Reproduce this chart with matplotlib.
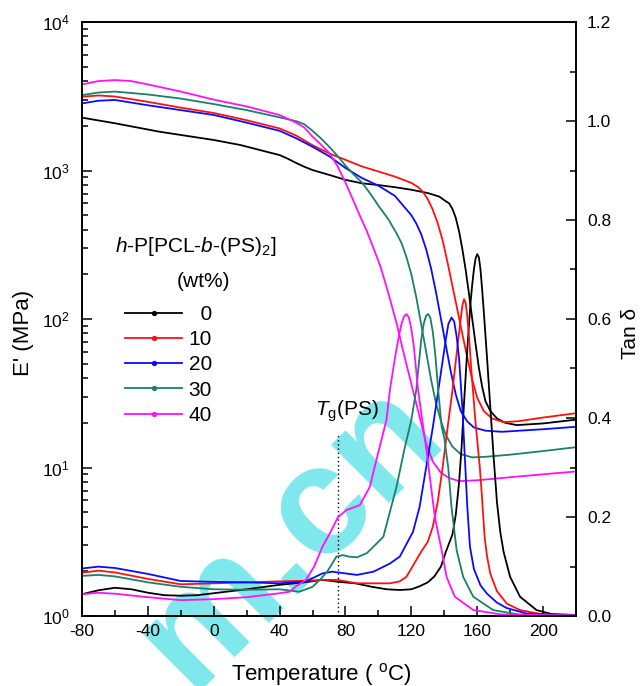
import matplotlib
matplotlib.use("Agg")
import matplotlib.pyplot as plt
from matplotlib.lines import Line2D
from matplotlib.ticker import LogLocator, MultipleLocator, FixedLocator, FixedFormatter, NullFormatter

plt.rcParams['font.family'] = ['Liberation Sans', 'DejaVu Sans']
plt.rcParams['mathtext.fontset'] = 'custom'
plt.rcParams['mathtext.rm'] = 'Liberation Sans'
plt.rcParams['mathtext.it'] = 'Liberation Sans:italic'
plt.rcParams['mathtext.bf'] = 'Liberation Sans:bold'
plt.rcParams['axes.unicode_minus'] = False

# ---------------- data ----------------
labels = ['  0', '10', '20', '30', '40']
colors = ['#000000', '#ff1010', '#0a0aff', '#1a8068', '#ff10ff']

# Storage modulus E' (MPa)
T_E0 = [-80, -60, -33, 0, 16, 40, 45, 50, 55, 60, 70, 80, 90, 100, 110, 120, 130, 137, 140, 143, 145, 147, 149, 151, 153, 155, 157, 159, 161, 163, 165, 168, 172, 177, 184, 200, 220]
E0 = [2270, 2080, 1825, 1605, 1486, 1270, 1200, 1125, 1060, 1007, 935, 865, 820, 798, 772, 742, 705, 667, 631, 600, 550, 479, 389, 295, 214, 148, 100, 68, 47, 35, 28, 24, 21.4, 20, 19.3, 19.8, 21]

T_E10 = [-80, -70, -60, -40, -20, 0, 20, 40, 50, 60, 70, 80, 90, 100, 110, 120, 124, 127, 130, 133, 136, 139, 142, 145, 148, 151, 154, 157, 160, 164, 169, 176, 185, 200, 220]
E10 = [3140, 3200, 3150, 2900, 2650, 2440, 2180, 1920, 1720, 1480, 1305, 1180, 1065, 985, 910, 825, 775, 720, 640, 545, 442, 339, 240, 166, 115, 79, 55, 39, 29.5, 24, 21.4, 20.2, 20.5, 21.7, 23.2]

T_E20 = [-80, -70, -60, -40, -20, 0, 20, 40, 50, 60, 70, 80, 90, 100, 110, 120, 123, 126, 129, 132, 135, 138, 141, 144, 147, 150, 154, 158, 165, 175, 200, 220]
E20 = [2830, 2950, 2985, 2750, 2550, 2365, 2100, 1850, 1650, 1445, 1250, 1040, 890, 790, 675, 500, 440, 372, 295, 219, 151, 100, 66, 44, 31, 24, 20.4, 18.6, 17.7, 17.4, 18.1, 18.8]

T_E30 = [-80, -70, -60, -40, -20, 0, 20, 40, 50, 55, 60, 65, 70, 75, 80, 85, 90, 95, 100, 106, 111, 114, 117, 120, 123, 126, 129, 132, 135, 138, 141, 145, 150, 157, 165, 180, 200, 220]
E30 = [3220, 3350, 3400, 3250, 3050, 2800, 2550, 2280, 2150, 2050, 1850, 1650, 1450, 1260, 1080, 940, 830, 700, 580, 470, 378, 325, 262, 200, 140, 92, 60, 39, 27, 20.5, 16.5, 13.8, 12.3, 11.7, 11.8, 12.2, 12.9, 13.7]

T_E40 = [-80, -70, -60, -50, -40, -20, 0, 20, 40, 50, 55, 60, 65, 70, 75, 80, 85, 89, 93, 97, 101, 106, 111, 116, 121, 125, 129, 133, 138, 143, 149, 160, 180, 200, 220]
E40 = [3800, 4000, 4065, 4000, 3800, 3400, 3000, 2700, 2365, 2100, 1950, 1690, 1500, 1320, 1080, 830, 620, 489, 390, 300, 230, 150, 94, 55, 33, 22, 14.5, 11, 9.2, 8.5, 8.1, 8.2, 8.6, 9.0, 9.4]

# Loss factor tan delta
T_t0 = [-80, -70, -60, -50, -40, -30, -20, -10, 0, 20, 40, 55, 66, 76, 86, 96, 105, 113, 120, 125, 130, 134, 138, 141, 145, 147, 149, 150.5, 152, 154, 156, 157, 158, 159, 160, 161, 162, 163, 164, 166, 168, 170, 172, 174, 176, 180, 186, 196, 205, 220]
t0 = [0.044, 0.052, 0.057, 0.054, 0.047, 0.042, 0.041, 0.042, 0.046, 0.054, 0.063, 0.068, 0.073, 0.069, 0.066, 0.059, 0.054, 0.0525, 0.054, 0.060, 0.068, 0.080, 0.100, 0.13, 0.165, 0.205, 0.27, 0.34, 0.43, 0.54, 0.635, 0.67, 0.70, 0.722, 0.731, 0.725, 0.70, 0.66, 0.615, 0.52, 0.42, 0.32, 0.23, 0.17, 0.13, 0.079, 0.039, 0.012, 0.004, 0.002]

T_t10 = [-80, -70, -60, -40, -20, 0, 20, 40, 55, 66, 75, 87, 100, 107, 113, 117, 123, 126, 130, 133, 136, 139, 142, 145, 148.5, 150, 151, 152, 153, 154, 155, 156.6, 159, 161.6, 162.7, 164.5, 166, 168, 172, 178, 186, 200, 220]
t10 = [0.0875, 0.0916, 0.088, 0.075, 0.064, 0.066, 0.068, 0.070, 0.071, 0.073, 0.073, 0.066, 0.066, 0.066, 0.070, 0.079, 0.113, 0.130, 0.150, 0.180, 0.230, 0.300, 0.380, 0.457, 0.558, 0.60, 0.627, 0.640, 0.632, 0.605, 0.565, 0.49, 0.39, 0.30, 0.25, 0.16, 0.12, 0.085, 0.050, 0.025, 0.012, 0.003, 0.001]

T_t20 = [-80, -70, -60, -40, -20, 0, 20, 40, 56, 66, 72, 80, 87, 97, 107, 113, 121, 125, 129, 133, 137, 141, 142.5, 144.4, 146, 147.5, 149, 151, 152.5, 154, 155.6, 158, 162, 166, 172, 178, 190, 220]
t20 = [0.096, 0.0997, 0.097, 0.085, 0.0707, 0.069, 0.068, 0.066, 0.070, 0.086, 0.0895, 0.086, 0.083, 0.0895, 0.106, 0.120, 0.170, 0.220, 0.300, 0.380, 0.470, 0.560, 0.590, 0.603, 0.595, 0.565, 0.520, 0.420, 0.320, 0.220, 0.140, 0.095, 0.062, 0.045, 0.027, 0.016, 0.005, 0.001]

T_t30 = [-80, -70, -60, -40, -20, 0, 20, 40, 52, 60, 65, 69, 74.5, 78.5, 82, 87, 93, 97, 103, 111, 116, 120, 123, 126, 127.5, 129, 130.2, 131.5, 133, 134.5, 136.3, 138.4, 140, 142.4, 144.4, 147.5, 151.5, 157.6, 169.7, 185, 220]
t30 = [0.081, 0.083, 0.080, 0.068, 0.059, 0.054, 0.053, 0.054, 0.049, 0.059, 0.075, 0.090, 0.120, 0.123, 0.120, 0.1185, 0.127, 0.140, 0.160, 0.261, 0.34, 0.396, 0.457, 0.558, 0.59, 0.607, 0.610, 0.603, 0.575, 0.53, 0.457, 0.382, 0.36, 0.30, 0.22, 0.133, 0.079, 0.039, 0.012, 0.003, 0.001]

T_t40 = [-80, -70, -60, -40, -20, 0, 20, 40, 46, 50, 56, 61, 66, 71, 75.5, 80.6, 88.7, 94.8, 99.8, 104.9, 107, 110, 112, 114, 115.5, 117.1, 118.5, 120, 121.5, 124.1, 127.2, 129.2, 134.3, 138.4, 141.4, 146.4, 157.6, 175, 220]
t40 = [0.044, 0.047, 0.045, 0.038, 0.032, 0.034, 0.038, 0.046, 0.049, 0.060, 0.073, 0.100, 0.140, 0.170, 0.200, 0.214, 0.224, 0.261, 0.329, 0.396, 0.457, 0.52, 0.558, 0.59, 0.605, 0.610, 0.603, 0.58, 0.545, 0.457, 0.382, 0.335, 0.200, 0.133, 0.079, 0.039, 0.012, 0.003, 0.001]

E_series = [(T_E0, E0), (T_E10, E10), (T_E20, E20), (T_E30, E30), (T_E40, E40)]
t_series = [(T_t0, t0), (T_t10, t10), (T_t20, t20), (T_t30, t30), (T_t40, t40)]

x_ticks = [-80, -40, 0, 40, 80, 120, 160, 200]
tan_ticks = [0.0, 0.2, 0.4, 0.6, 0.8, 1.0, 1.2]
tg_ps = 75.5          # Tg(PS) marker temperature
tg_line_top = 16.6    # top of the dotted Tg line (E' units)
tg_label_pos = (61.3, 22.2)

legend_title = r"$\mathit{h}$-P[PCL-$\mathit{b}$-(PS)$_2$]"
legend_unit = "(wt%)"
watermark = "m.cn"

# ---------------- figure ----------------
W, H = 641, 686
fig = plt.figure(figsize=(W / 100, H / 100), dpi=100)
fig.patch.set_facecolor('white')
L, R, T, B = 82, 576, 22, 616
ax = fig.add_axes([L / W, 1 - B / H, (R - L) / W, (B - T) / H])
ax.set_facecolor('none')

# watermark (behind the data)
fig.text(290 / W, 1 - 535 / H, watermark, rotation=45, fontsize=112, fontweight='bold',
         color='#7ee8ec', ha='center', va='center', zorder=-5,
         family=['Liberation Sans', 'DejaVu Sans'])

lw = 1.3
for (tx, ey), c in zip(E_series, colors):
    ax.plot(tx, ey, color=c, lw=lw, solid_joinstyle='round')

ax.set_yscale('log')
ax.set_xlim(-80, 220)
ax.set_ylim(1, 1e4)
ax.xaxis.set_major_locator(FixedLocator(x_ticks))
ax.xaxis.set_minor_locator(MultipleLocator(20))
ax.yaxis.set_major_locator(LogLocator(base=10, numticks=10))
ax.yaxis.set_minor_locator(LogLocator(base=10, subs=range(2, 10), numticks=20))
ax.yaxis.set_minor_formatter(NullFormatter())

ax2 = ax.twinx()
ax2.set_facecolor('none')
for (tx, ty), c in zip(t_series, colors):
    ax2.plot(tx, ty, color=c, lw=lw, solid_joinstyle='round')
ax2.set_ylim(0, 1.2)
ax2.yaxis.set_major_locator(FixedLocator(tan_ticks))
ax2.yaxis.set_major_formatter(FixedFormatter([f"{v:.1f}" for v in tan_ticks]))
ax2.yaxis.set_minor_locator(MultipleLocator(0.1))

for a in (ax, ax2):
    for s in a.spines.values():
        s.set_linewidth(1.2)

ax.tick_params(which='both', direction='in', top=False, right=False, width=1.1, labelsize=12.5)
ax.tick_params(which='major', length=7)
ax.tick_params(which='minor', length=4)
ax.tick_params(axis='y', pad=9)
ax.tick_params(axis='x', pad=6)
ax2.tick_params(which='both', direction='in', width=1.1, labelsize=12.5, pad=8)
ax2.tick_params(which='major', length=7)
ax2.tick_params(which='minor', length=4)

# Tg(PS) marker
ax.plot([tg_ps, tg_ps], [1, tg_line_top], color='black', lw=1.0, ls=(0, (1, 2)))
ax.text(tg_label_pos[0], tg_label_pos[1], r"$\mathit{T}_{\rm g}$(PS)", fontsize=15,
        ha='left', va='baseline')

# axis labels
fig.text(321 / W, 1 - 674 / H, r"Temperature ( $^{\rm o}$C)", fontsize=16, ha='center', va='center')
fig.text(23 / W, 1 - 333 / H, "E' (MPa)", fontsize=16, rotation=90, ha='center', va='center')
fig.text(630 / W, 1 - 333 / H, "Tan δ", fontsize=15, rotation=90, ha='center', va='center')

# legend
fig.text(196 / W, 1 - 247 / H, legend_title, fontsize=15, ha='center', va='center')
fig.text(203 / W, 1 - 281 / H, legend_unit, fontsize=15, ha='center', va='center')
handles = [Line2D([0], [0], color=c, lw=lw, marker='o', markersize=2.8) for c in colors]
ax.legend(handles, labels, loc='upper left', bbox_to_anchor=(125 / W, 1 - 305 / H),
          bbox_transform=fig.transFigure, frameon=False, fontsize=15, numpoints=1,
          handlelength=2.75, handletextpad=0.3, labelspacing=0.3, borderpad=0,
          borderaxespad=0)

fig.savefig('out.png', dpi=100, facecolor='white')
